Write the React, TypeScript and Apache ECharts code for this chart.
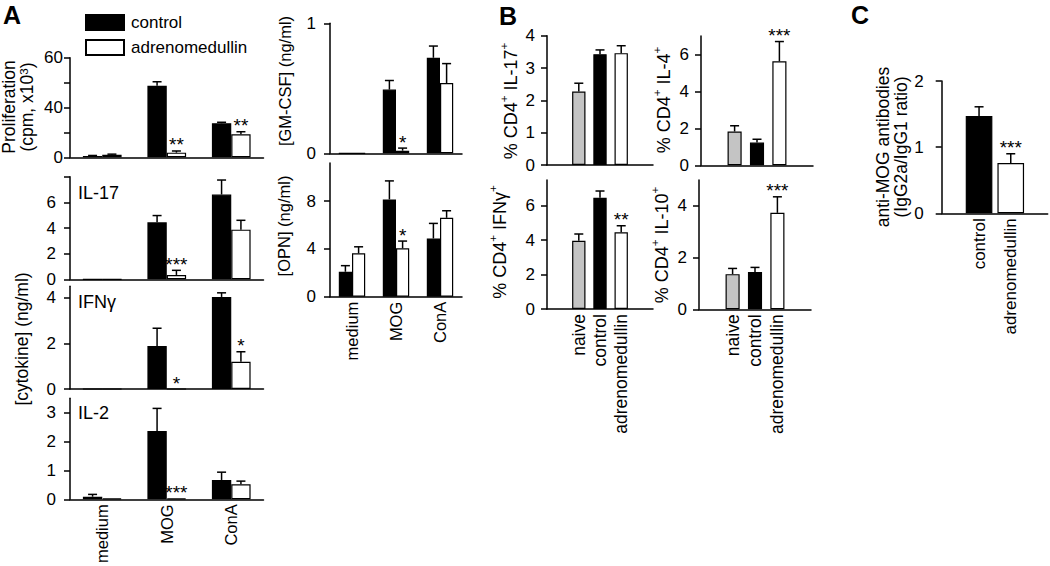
import React, { useEffect, useRef } from 'react';
import * as echarts from 'echarts';

const FONT = "'Liberation Sans', Arial, Helvetica, sans-serif";

// ---------- categories ----------
const stimuli = ['medium', 'MOG', 'ConA'];
const groupsB = ['naive', 'control', 'adrenomedullin'];
const groupsC = ['control', 'adrenomedullin'];
const colorsB = ['#c4c4c4', '#000000', '#ffffff'];
const colorsC = ['#000000', '#ffffff'];

// ---------- Panel A ----------
const prolifTickValues = [0, 15, 30, 45, 60];
const prolifTickLabels = ['0', '', '40', '', '60'];
const prolifControl = [0.8, 43.1, 20.5];
const prolifControlSem = [0.3, 2.4, 0.6];
const prolifAdm = [1.5, 2.8, 13.9];
const prolifAdmSem = [0.4, 1.0, 1.5];
const prolifStars = ['', '**', '**'];

const il17Ticks = [0, 2, 4, 6, 8];
const il17Labels = ['0', '2', '4', '6', ''];
const il17Control = [0, 4.44, 6.61];
const il17ControlSem = [0, 0.53, 1.13];
const il17Adm = [0, 0.34, 3.87];
const il17AdmSem = [0, 0.36, 0.73];
const il17Stars = ['', '***', ''];

const ifngTicks = [0, 2, 4];
const ifngControl = [0, 1.88, 4.03];
const ifngControlSem = [0, 0.78, 0.18];
const ifngAdm = [0, 0, 1.19];
const ifngAdmSem = [0, 0, 0.44];
const ifngStars = ['', '*', '*'];

const il2Ticks = [0, 1, 2, 3];
const il2Control = [0.09, 2.37, 0.67];
const il2ControlSem = [0.08, 0.78, 0.27];
const il2Adm = [0.03, 0.03, 0.52];
const il2AdmSem = [0, 0, 0.11];
const il2Stars = ['', '***', ''];

const gmcsfTicks = [0, 1];
const gmcsfControl = [0, 0.49, 0.735];
const gmcsfControlSem = [0, 0.07, 0.09];
const gmcsfAdm = [0, 0.02, 0.54];
const gmcsfAdmSem = [0, 0.02, 0.15];
const gmcsfStars = ['', '*', ''];

const opnTicks = [0, 4, 8];
const opnControl = [2.09, 8.15, 4.88];
const opnControlSem = [0.51, 1.55, 1.26];
const opnAdm = [3.63, 4.05, 6.61];
const opnAdmSem = [0.55, 0.61, 0.59];
const opnStars = ['', '*', ''];

// ---------- Panel B ----------
const bIl17Ticks = [0, 1, 2, 3, 4];
const bIl17 = [2.27, 3.43, 3.46];
const bIl17Sem = [0.26, 0.13, 0.23];
const bIl17Stars = ['', '', ''];

const bIl4Ticks = [0, 2, 4, 6];
const bIl4 = [1.83, 1.23, 5.63];
const bIl4Sem = [0.31, 0.18, 1.07];
const bIl4Stars = ['', '', '***'];

const bIfngTicks = [0, 2, 4, 6];
const bIfng = [3.97, 6.47, 4.46];
const bIfngSem = [0.39, 0.39, 0.38];
const bIfngStars = ['', '', '**'];

const bIl10Ticks = [0, 2, 4];
const bIl10 = [1.36, 1.44, 3.73];
const bIl10Sem = [0.22, 0.18, 0.62];
const bIl10Stars = ['', '', '***'];

// ---------- Panel C ----------
const cTicks = [0, 1, 2];
const cRatio = [1.47, 0.76];
const cRatioSem = [0.14, 0.14];
const cStars = ['', '***'];

function buildOption() {
  const grids: any[] = [];
  const xAxis: any[] = [];
  const yAxis: any[] = [];
  const series: any[] = [];

  const addGrid = (left: number, top: number, width: number, height: number) => {
    grids.push({ left, top, width, height, containLabel: false, outerBoundsMode: 'none' });
    return grids.length - 1;
  };

  const addY = (gi: number, max: number, ticks: number[], labels: string[] | null, margin: number, show = true) => {
    yAxis.push({
      gridIndex: gi,
      type: 'value',
      min: 0,
      max,
      show,
      axisLine: { show: true, lineStyle: { color: '#000', width: 1.5 } },
      axisTick: { show: true, length: 6, customValues: ticks, lineStyle: { color: '#000', width: 1.5 } },
      axisLabel: {
        customValues: ticks,
        fontSize: 17,
        color: '#000',
        fontFamily: FONT,
        margin,
        formatter: (v: number) => {
          const k = ticks.indexOf(v);
          if (labels) return k >= 0 ? labels[k] : '';
          return String(v);
        },
      },
      splitLine: { show: false },
    });
  };

  const addX = (gi: number, cats: string[], showLabels: boolean, fontSize: number, showLine = true) => {
    xAxis.push({
      gridIndex: gi,
      type: 'category',
      data: cats,
      axisLine: { show: showLine, onZero: false, lineStyle: { color: '#000', width: 1.5 } },
      axisTick: { show: false },
      axisLabel: {
        show: showLabels,
        interval: 0,
        rotate: 90,
        fontSize,
        color: '#000',
        fontFamily: FONT,
        margin: 5,
      },
      splitLine: { show: false },
    });
  };

  const errSeries = (gi: number, means: number[], sems: number[], stars: string[], offsetFrac: number, catOffset: number) => ({
    type: 'custom',
    xAxisIndex: gi,
    yAxisIndex: gi,
    z: 5,
    clip: false,
    silent: true,
    data: means.map((m, i) => [i + catOffset, m, sems[i]]),
    renderItem: (params: any, api: any) => {
      const i = params.dataIndex;
      const x = api.value(0);
      const m = api.value(1);
      const s = api.value(2);
      const band = api.size([1, 0])[0];
      const base = api.coord([x, m]);
      const cx = base[0] + offsetFrac * band;
      const top = api.coord([x, m + s])[1];
      const children: any[] = [];
      const st = { stroke: '#000', lineWidth: 1.5 };
      if (s > 0) {
        children.push({ type: 'line', shape: { x1: cx, y1: base[1], x2: cx, y2: top }, style: st });
        children.push({ type: 'line', shape: { x1: cx - 4.5, y1: top, x2: cx + 4.5, y2: top }, style: st });
      }
      if (stars[i]) {
        children.push({
          type: 'text',
          x: cx,
          y: top - 6,
          style: { text: stars[i], fontSize: 19, fontFamily: FONT, fill: '#000', align: 'center', verticalAlign: 'middle' },
        });
      }
      return { type: 'group', children };
    },
  });

  const panelA = (
    box: number[], max: number, ticks: number[], labels: string[] | null, margin: number, showX: boolean,
    ctl: number[], ctlSem: number[], adm: number[], admSem: number[], stars: string[]
  ) => {
    const gi = addGrid(box[0], box[1], box[2], box[3]);
    addX(gi, stimuli, showX, 16.5);
    addY(gi, max, ticks, labels, margin);
    series.push({
      type: 'bar', name: 'control', xAxisIndex: gi, yAxisIndex: gi, data: ctl,
      barGap: '0%', barCategoryGap: '40%',
      itemStyle: { color: '#000', borderColor: '#000', borderWidth: 1.2 },
    });
    series.push({
      type: 'bar', name: 'adrenomedullin', xAxisIndex: gi, yAxisIndex: gi, data: adm,
      barGap: '0%', barCategoryGap: '40%',
      itemStyle: { color: '#fff', borderColor: '#000', borderWidth: 1.2 },
    });
    series.push(errSeries(gi, ctl, ctlSem, stimuli.map(() => ''), -0.15, 0));
    series.push(errSeries(gi, adm, admSem, stars, 0.15, 0));
  };

  const panelB = (
    box: number[], max: number, ticks: number[], margin: number, showX: boolean,
    vals: number[], sems: number[], stars: string[]
  ) => {
    const gi = addGrid(box[0], box[1], box[2], box[3]);
    addX(gi, ['', ...groupsB, ''], showX, 17.5);
    addY(gi, max, ticks, null, margin);
    series.push({
      type: 'bar', xAxisIndex: gi, yAxisIndex: gi, barCategoryGap: '37%',
      data: ['-', ...vals.map((v, i) => ({ value: v, itemStyle: { color: colorsB[i] } })), '-'],
      itemStyle: { borderColor: '#000', borderWidth: 1.2 },
    });
    series.push(errSeries(gi, vals, sems, stars, 0, 1));
  };

  // Panel A
  panelA([70, 57.7, 193.5, 99.6], 60, prolifTickValues, prolifTickLabels, 7, false,
    prolifControl, prolifControlSem, prolifAdm, prolifAdmSem, prolifStars);
  panelA([70, 176.7, 193.5, 102.6], 8, il17Ticks, il17Labels, 14, false,
    il17Control, il17ControlSem, il17Adm, il17AdmSem, il17Stars);
  panelA([70, 286.2, 193.5, 102.8], 4.5, ifngTicks, null, 14, false,
    ifngControl, ifngControlSem, ifngAdm, ifngAdmSem, ifngStars);
  panelA([70, 398.3, 193.5, 101], 3.5, il2Ticks, null, 14, true,
    il2Control, il2ControlSem, il2Adm, il2AdmSem, il2Stars);
  panelA([330, 23.3, 132, 130], 1, gmcsfTicks, null, 14, false,
    gmcsfControl, gmcsfControlSem, gmcsfAdm, gmcsfAdmSem, gmcsfStars);
  panelA([330, 163, 132, 133.7], 11.2, opnTicks, null, 14, true,
    opnControl, opnControlSem, opnAdm, opnAdmSem, opnStars);

  // Panel B
  panelB([547, 35.7, 106, 129.3], 4, bIl17Ticks, 12, false, bIl17, bIl17Sem, bIl17Stars);
  panelB([701, 36, 112, 129.3], 7, bIl4Ticks, 12, false, bIl4, bIl4Sem, bIl4Stars);
  panelB([547, 180, 106, 129], 7.5, bIfngTicks, 12, true, bIfng, bIfngSem, bIfngStars);
  panelB([699, 180, 112, 129.3], 5, bIl10Ticks, 12, true, bIl10, bIl10Sem, bIl10Stars);

  // Panel C: frame (axes) + data grid
  const gf = addGrid(941.7, 81, 106, 132.3);
  xAxis.push({
    gridIndex: gf, type: 'value', min: 0, max: 1,
    axisLine: { show: true, onZero: false, lineStyle: { color: '#000', width: 1.5 } },
    axisTick: { show: false }, axisLabel: { show: false }, splitLine: { show: false },
  });
  addY(gf, 2, cTicks, null, 18);
  const gc = addGrid(963.2, 81, 63.4, 132.3);
  addX(gc, groupsC, true, 17, false);
  addY(gc, 2, cTicks, null, 18, false);
  series.push({
    type: 'bar', xAxisIndex: gc, yAxisIndex: gc, barCategoryGap: '16%',
    data: cRatio.map((v, i) => ({ value: v, itemStyle: { color: colorsC[i] } })),
    itemStyle: { borderColor: '#000', borderWidth: 1.2 },
  });
  series.push(errSeries(gc, cRatio, cRatioSem, cStars, 0, 0));

  const base = { fontFamily: FONT, fill: '#000' };
  const sup = { fontSize: 11.5, verticalAlign: 'top', fontFamily: FONT, fill: '#000' };
  const rotTitle = (x: number, y: number, text: string, lineHeight = 27, fontSize = 18) => ({
    type: 'text', x, y, rotation: Math.PI / 2,
    style: { ...base, text, fontSize, lineHeight, align: 'center', verticalAlign: 'middle', rich: { s: sup } },
  });
  const plain = (x: number, y: number, text: string, fontSize = 18, bold = false, align = 'left') => ({
    type: 'text', x, y,
    style: { ...base, text, fontSize, fontWeight: bold ? 'bold' : 'normal', align, verticalAlign: 'middle' },
  });

  const graphic = [
    plain(12, 15, 'A', 25, true, 'center'),
    plain(508, 16, 'B', 25, true, 'center'),
    plain(860, 15, 'C', 25, true, 'center'),
    plain(78, 193, 'IL-17'),
    plain(78, 302, 'IFNγ'),
    plain(78, 413, 'IL-2'),
    rotTitle(18, 107, 'Proliferation\n(cpm, x10{s|3})', 18, 17.5),
    rotTitle(22, 339, '[cytokine] (ng/ml)', 27, 17.5),
    rotTitle(285, 81, '[GM-CSF] (ng/ml)', 27, 16.5),
    rotTitle(284, 226, '[OPN] (ng/ml)', 27, 16.5),
    rotTitle(511, 101, '% CD4{s|+} IL-17{s|+}'),
    rotTitle(664, 100, '% CD4{s|+} IL-4{s|+}'),
    rotTitle(500, 242, '% CD4{s|+} IFNγ{s|+}'),
    rotTitle(662, 245, '% CD4{s|+} IL-10{s|+}'),
    rotTitle(892, 147, 'anti-MOG antibodies\n(IgG2a/IgG1 ratio)', 18.5, 17.5),
  ];

  return {
    animation: false,
    backgroundColor: '#fff',
    textStyle: { fontFamily: FONT },
    legend: {
      show: true,
      data: ['control', 'adrenomedullin'],
      orient: 'vertical',
      left: 80,
      top: 9,
      itemWidth: 38,
      itemHeight: 15,
      itemGap: 8,
      icon: 'rect',
      selectedMode: false,
      textStyle: { fontSize: 17, color: '#000', fontFamily: FONT, padding: [0, 0, 0, 2] },
    },
    grid: grids,
    xAxis,
    yAxis,
    series,
    graphic,
  };
}

export default function App() {
  const ref = useRef<HTMLDivElement>(null);
  useEffect(() => {
    const chart = echarts.init(ref.current as HTMLDivElement, null, { renderer: 'svg' });
    chart.setOption(buildOption() as any);
    return () => chart.dispose();
  }, []);
  return (
    <div
      ref={ref}
      style={{ position: 'fixed', left: 0, top: 0, width: 1050, height: 566, background: '#fff' }}
    />
  );
}
